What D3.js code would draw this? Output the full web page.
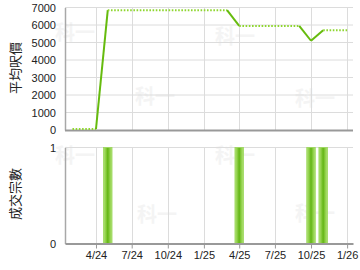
<!DOCTYPE html>
<html>
<head>
<meta charset="utf-8">
<script src="https://cdn.jsdelivr.net/npm/d3@7"></script>
<style>
  html, body { margin: 0; padding: 0; background: #fff; }
  svg { display: block; font-family: "Liberation Sans", Arial, sans-serif; }
</style>
</head>
<body>
<svg width="360" height="270"></svg>
<script>
// price line vertices, month by month where it bends
const lineMonths = ['2024-02', '2024-04', '2024-05', '2025-03', '2025-04', '2025-09', '2025-10', '2025-11', '2026-01'];
const lineValues = [0, 0, 6850, 6850, 5950, 5950, 5100, 5700, 5700];
// style of segment i (from vertex i to i+1): true = dotted (no deals)
const lineDotted = [true, false, true, false, true, false, false, true];

// deals per month
const dealMonths = ['2024-05', '2025-04', '2025-10', '2025-11'];
const dealCounts = [1, 1, 1, 1];

const tickMonths = ['2024-04', '2024-07', '2024-10', '2025-01', '2025-04', '2025-07', '2025-10', '2026-01'];
const priceTicks = [0, 1000, 2000, 3000, 4000, 5000, 6000, 7000];
const countTicks = [0, 1];

const parseMonth = d3.timeParse('%Y-%m');
const svg = d3.select('svg');

const left = 65;
const right = 353;

const x = d3
  .scaleTime()
  .domain([new Date(2024, 0, 13), new Date(2026, 0, 16)])
  .range([left, right]);

const yPrice = d3.scaleLinear().domain([0, 7000]).range([130, 7.5]);
const yCount = d3.scaleLinear().domain([0, 1]).range([243.5, 147.5]);

// bar gradient
const grad = svg
  .append('defs')
  .append('linearGradient')
  .attr('id', 'barGrad')
  .attr('x1', '0%')
  .attr('x2', '100%');
[
  ['0%', '#b2e27a'],
  ['25%', '#8fd048'],
  ['50%', '#62b514'],
  ['75%', '#8fd048'],
  ['100%', '#b2e27a']
].forEach(s => grad.append('stop').attr('offset', s[0]).attr('stop-color', s[1]));

// faint watermarks
const marks = [[55, 40], [135, 104], [215, 44], [295, 106], [55, 163], [137, 222], [215, 163], [295, 221]];
svg
  .append('g')
  .selectAll('text')
  .data(marks)
  .enter()
  .append('text')
  .attr('x', d => d[0])
  .attr('y', d => d[1])
  .attr('font-size', 20)
  .attr('font-weight', 'bold')
  .attr('font-family', '"Noto Sans CJK TC", sans-serif')
  .attr('fill', '#f4f4f4')
  .text('科一');

const tickDates = tickMonths.map(parseMonth);

// Gridlines - top
const gTop = svg.append('g');
gTop
  .selectAll('line.h')
  .data(priceTicks.slice(1))
  .enter()
  .append('line')
  .attr('x1', left)
  .attr('x2', right)
  .attr('y1', d => yPrice(d))
  .attr('y2', d => yPrice(d))
  .attr('stroke', '#dcdcdc');
gTop
  .selectAll('line.v')
  .data(tickDates)
  .enter()
  .append('line')
  .attr('x1', d => Math.round(x(d)) + 0.5)
  .attr('x2', d => Math.round(x(d)) + 0.5)
  .attr('y1', yPrice(7000))
  .attr('y2', yPrice(0))
  .attr('stroke', '#dcdcdc');

// Gridlines - bottom
const gBot = svg.append('g');
gBot
  .append('line')
  .attr('x1', left)
  .attr('x2', right)
  .attr('y1', yCount(1))
  .attr('y2', yCount(1))
  .attr('stroke', '#dcdcdc');
gBot
  .selectAll('line.v')
  .data(tickDates)
  .enter()
  .append('line')
  .attr('x1', d => Math.round(x(d)) + 0.5)
  .attr('x2', d => Math.round(x(d)) + 0.5)
  .attr('y1', yCount(1))
  .attr('y2', yCount(0))
  .attr('stroke', '#dcdcdc');

// Bars
const barW = 8.5;
svg
  .append('g')
  .selectAll('rect')
  .data(dealMonths.map((m, i) => ({ date: parseMonth(m), value: dealCounts[i] })))
  .enter()
  .append('rect')
  .attr('x', d => x(d.date) - barW / 2)
  .attr('y', d => yCount(d.value))
  .attr('width', barW)
  .attr('height', d => yCount(0) - yCount(d.value))
  .attr('fill', 'url(#barGrad)')
  .attr('stroke', '#9bd85a')
  .attr('stroke-width', 0.8);

// Axes
const axisTop = svg
  .append('g')
  .attr('transform', `translate(${left},0)`)
  .call(d3.axisLeft(yPrice).tickValues(priceTicks).tickFormat(d3.format('d')).tickSize(0).tickPadding(9));
const axisBot = svg
  .append('g')
  .attr('transform', `translate(${left},0)`)
  .call(d3.axisLeft(yCount).tickValues(countTicks).tickFormat(d3.format('d')).tickSize(0).tickPadding(9));
[axisTop, axisBot].forEach(a => {
  a.select('.domain').attr('stroke', '#a8a8a8').attr('stroke-width', 1.5);
  a.selectAll('text').attr('font-size', 11).attr('fill', '#222').attr('font-family', '"Liberation Sans", Arial, sans-serif');
});

// bottom line of the top panel
svg
  .append('line')
  .attr('x1', left)
  .attr('x2', right)
  .attr('y1', yPrice(0) + 0.5)
  .attr('y2', yPrice(0) + 0.5)
  .attr('stroke', '#999')
  .attr('stroke-width', 2);

// x-axis of the bottom panel
const xAxis = svg
  .append('g')
  .attr('transform', `translate(0,${yCount(0)})`)
  .call(
    d3
      .axisBottom(x)
      .tickValues(tickDates)
      .tickFormat(d3.timeFormat('%-m/%y'))
      .tickSize(5)
      .tickSizeOuter(0)
      .tickPadding(3)
  );
xAxis.select('.domain').attr('stroke', '#999').attr('stroke-width', 2);
xAxis.selectAll('.tick line').attr('stroke', '#999');
xAxis.selectAll('text').attr('font-size', 11).attr('fill', '#222').attr('font-family', '"Liberation Sans", Arial, sans-serif');

// Price line, segment by segment (drawn over the axis line; zero lifted off it a bit)
const pts = lineMonths.map((m, i) => [x(parseMonth(m)), yPrice(lineValues[i]) - (lineValues[i] === 0 ? 1 : 0)]);
const line = d3.line();
svg
  .append('g')
  .selectAll('path')
  .data(lineDotted.map((dotted, i) => ({ dotted, seg: [pts[i], pts[i + 1]] })))
  .enter()
  .append('path')
  .attr('d', d => line(d.seg))
  .attr('fill', 'none')
  .attr('stroke', d => (d.dotted ? '#8fd630' : '#66bb0e'))
  .attr('stroke-width', 2)
  .attr('stroke-dasharray', d => (d.dotted ? '1.6,1.6' : null));

// Axis titles
[['平均呎價', 68], ['成交宗數', 194]].forEach(t => {
  svg
    .append('text')
    .attr('transform', `translate(14,${t[1]}) rotate(-90)`)
    .attr('text-anchor', 'middle')
    .attr('dominant-baseline', 'central')
    .attr('font-size', 13)
    .attr('font-family', '"Noto Sans CJK TC", sans-serif')
    .attr('fill', '#222')
    .text(t[0]);
});
</script>
</body>
</html>
